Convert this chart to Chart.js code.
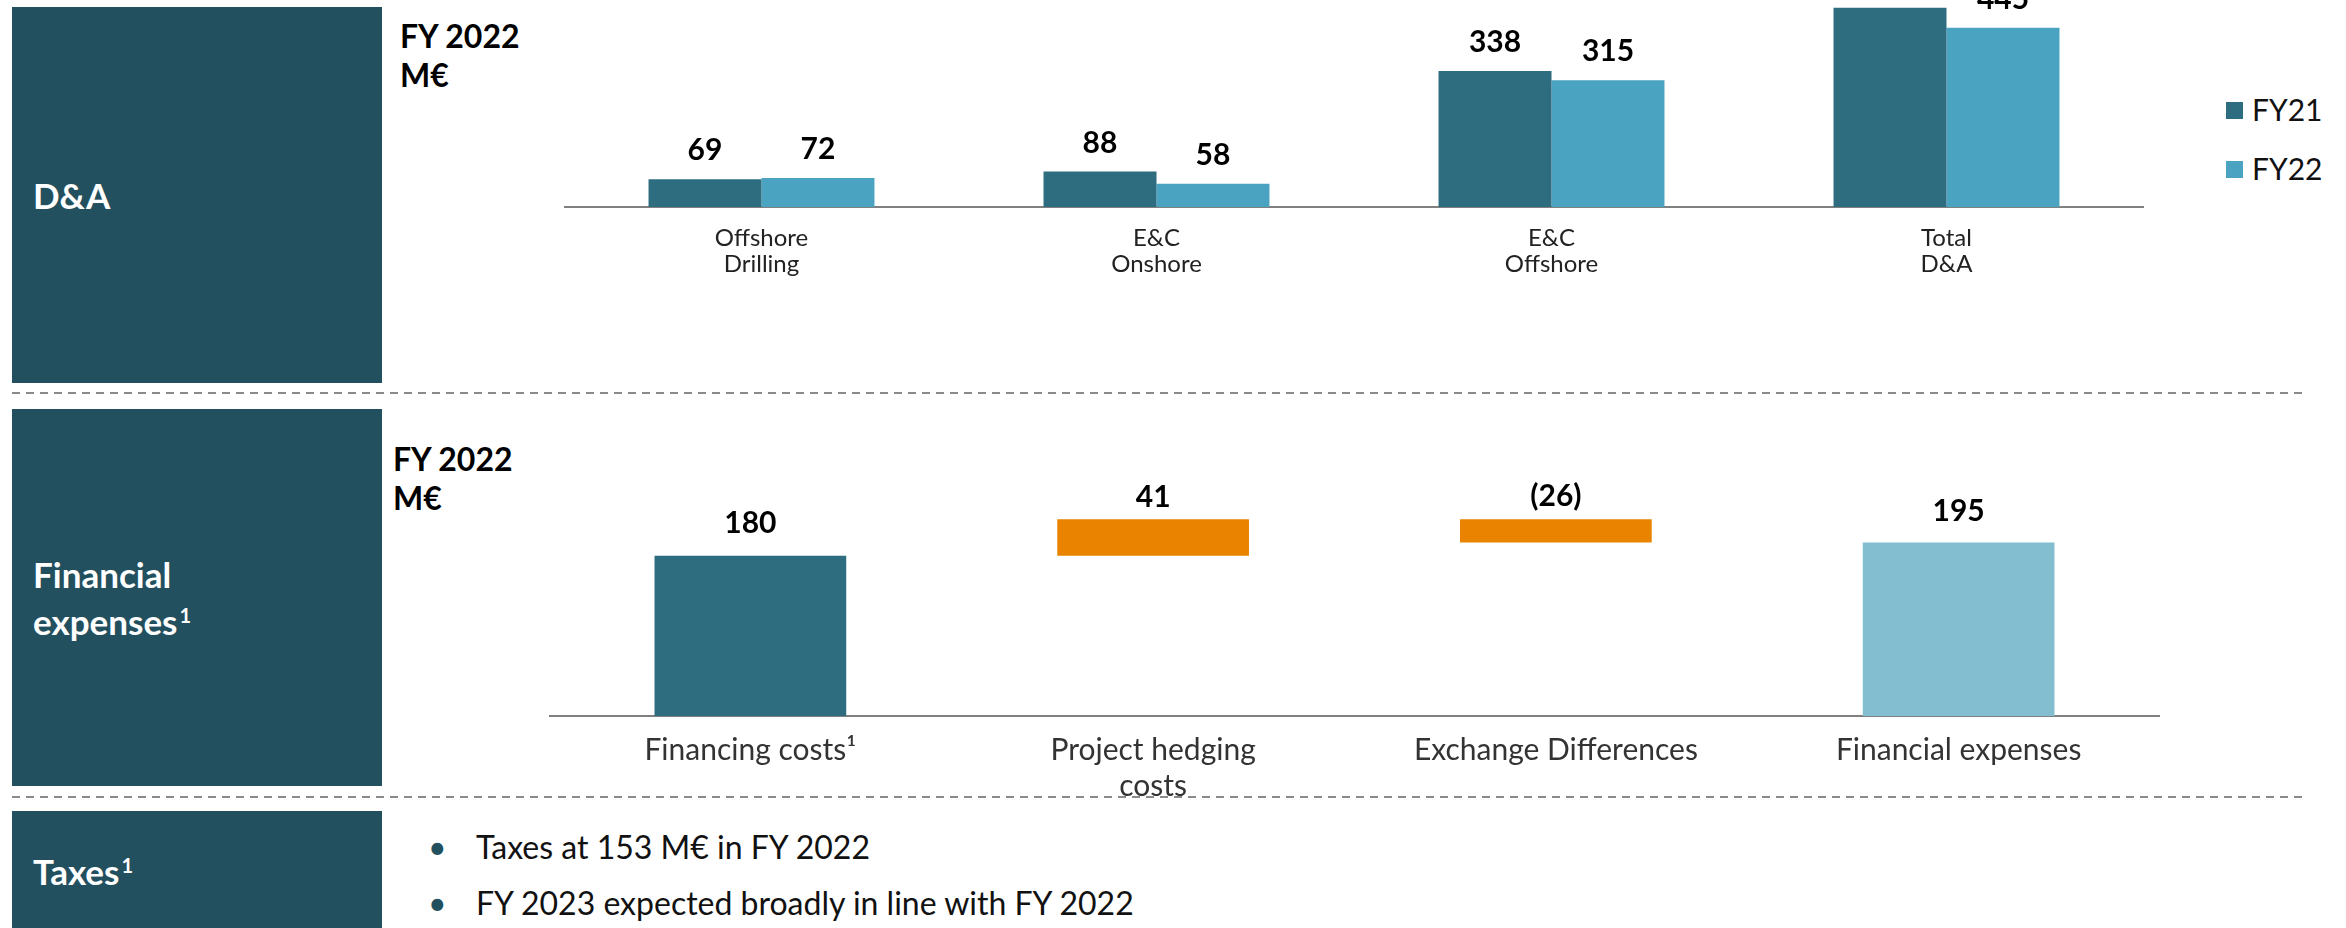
<!DOCTYPE html>
<html>
<head>
<meta charset="utf-8">
<script src="https://cdn.jsdelivr.net/npm/chart.js@4.4.0/dist/chart.umd.min.js"></script>
<style>
  html, body { margin: 0; padding: 0; background: #fff; }
  body { width: 2346px; height: 928px; position: relative; overflow: hidden; font-family: Lato, "Open Sans", sans-serif; }
  .box { position: absolute; left: 12px; width: 370px; background: #23505f; color: #fff; font-size: 35px; font-weight: bold;
         display: flex; align-items: center; padding-left: 21px; box-sizing: border-box; line-height: 47px; }
  .box sup { font-size: 20px; position: relative; top: -6px; vertical-align: top; margin-left: 2px; }
  .unit { position: absolute; font-size: 32px; font-weight: bold; line-height: 39px; color: #000; }
  .dash { position: absolute; left: 12px; width: 2296px; height: 2px;
          background: repeating-linear-gradient(to right, #8a8a8a 0 8px, transparent 8px 14px); }
  .chart { position: absolute; }
  .leg-sq { position: absolute; left: 2226px; width: 17px; height: 17px; }
  .leg-tx { position: absolute; left: 2252px; font-size: 30px; line-height: 30px; color: #111; }
  .bullet { position: absolute; left: 428px; font-size: 32px; line-height: 56px; color: #111; white-space: nowrap; }
  .bullet span { display: inline-block; width: 48px; color: #23505f; }
</style>
</head>
<body>

<div class="box" style="top:7px;height:376px;"><div>D&amp;A</div></div>
<div class="unit" style="left:400px;top:16px;">FY 2022<br>M€</div>
<div class="dash" style="top:392px;"></div>

<div class="box" style="top:409px;height:377px;"><div>Financial<br>expenses<sup>1</sup></div></div>
<div class="unit" style="left:393px;top:439px;">FY 2022<br>M€</div>
<div class="dash" style="top:796px;"></div>

<div class="box" style="top:811px;height:120px;"><div>Taxes<sup>1</sup></div></div>
<div class="bullet" style="top:819px;"><span>•</span>Taxes at 153 M€ in FY 2022</div>
<div class="bullet" style="top:875px;"><span>•</span>FY 2023 expected broadly in line with FY 2022</div>

<div class="leg-sq" style="top:102px;background:#2e6d80;"></div>
<div class="leg-tx" style="top:94px;">FY21</div>
<div class="leg-sq" style="top:161px;background:#4aa3c0;"></div>
<div class="leg-tx" style="top:153px;">FY22</div>

<div class="chart" style="left:564px;top:0px;width:1580px;height:287px;"><canvas id="daChart"></canvas></div>
<div class="chart" style="left:549px;top:400px;width:1611px;height:416px;"><canvas id="finChart"></canvas></div>

<script>
// D&A, M€
const daCategories = [['Offshore', 'Drilling'], ['E&C', 'Onshore'], ['E&C', 'Offshore'], ['Total', 'D&A']];
const fy21 = [69, 88, 338, 495];
const fy22 = [72, 58, 315, 445];

// Financial expenses, M€ (bridge)
const finCategories = ['Financing costs¹', ['Project hedging', 'costs'], 'Exchange Differences', 'Financial expenses'];
const finValues = [180, 41, -26, 195];
const finLabels = ['180', '41', '(26)', '195'];
const finColors = ['#2e6d80', '#e98300', '#e98300', '#82bdd0'];

// bridge: first and last are totals, the middle ones float
let run = 0;
const finBars = finValues.map((v, i) => {
  if (i === 0 || i === finValues.length - 1) { run = v; return [0, v]; }
  const from = run;
  run += v;
  return [from, run];
});

// value labels above each bar
const valueLabels = {
  id: 'valueLabels',
  afterDatasetsDraw(chart, args, opts) {
    const ctx = chart.ctx;
    ctx.save();
    ctx.font = 'bold 30px Lato';
    ctx.fillStyle = '#000';
    ctx.textAlign = 'center';
    ctx.textBaseline = 'alphabetic';
    chart.data.datasets.forEach((ds, di) => {
      chart.getDatasetMeta(di).data.forEach((bar, i) => {
        const top = Math.min(bar.y, bar.base);
        const txt = ds.valueText ? ds.valueText[i] : String(ds.data[i]);
        const off = Array.isArray(opts.offset) ? opts.offset[i] : opts.offset;
        ctx.fillText(txt, bar.x, top - off);
      });
    });
    ctx.restore();
  }
};

new Chart(document.getElementById('daChart'), {
  type: 'bar',
  data: {
    labels: daCategories,
    datasets: [
      { label: 'FY21', data: fy21, backgroundColor: '#2e6d80' },
      { label: 'FY22', data: fy22, backgroundColor: '#4aa3c0' }
    ]
  },
  options: {
    responsive: true,
    maintainAspectRatio: false,
    animation: false,
    layout: { padding: 0 },
    categoryPercentage: 0.572,
    barPercentage: 1,
    plugins: {
      legend: { display: false },
      tooltip: { enabled: false },
      valueLabels: { offset: 19 }
    },
    scales: {
      x: {
        grid: { display: false, drawTicks: false },
        border: { display: true, color: '#808080', width: 2 },
        ticks: { font: { family: 'Lato', size: 24, lineHeight: 1.1 }, color: '#222', padding: 18, maxRotation: 0, autoSkip: false },
        afterFit: s => { s.height = 80; }
      },
      y: { display: false, min: 0, max: 514 }
    }
  },
  plugins: [valueLabels]
});

new Chart(document.getElementById('finChart'), {
  type: 'bar',
  data: {
    labels: finCategories,
    datasets: [
      { label: 'FY 2022', data: finBars, valueText: finLabels, backgroundColor: finColors }
    ]
  },
  options: {
    responsive: true,
    maintainAspectRatio: false,
    animation: false,
    layout: { padding: 0 },
    categoryPercentage: 0.476,
    barPercentage: 1,
    plugins: {
      legend: { display: false },
      tooltip: { enabled: false },
      valueLabels: { offset: [23, 12, 13, 21] }
    },
    scales: {
      x: {
        grid: { display: false, drawTicks: false },
        border: { display: true, color: '#808080', width: 2 },
        ticks: { font: { family: 'Lato', size: 30, lineHeight: 1.2 }, color: '#333', padding: 16, maxRotation: 0, autoSkip: false },
        afterFit: s => { s.height = 100; }
      },
      y: { display: false, min: 0, max: 355 }
    }
  },
  plugins: [valueLabels]
});
</script>
</body>
</html>
